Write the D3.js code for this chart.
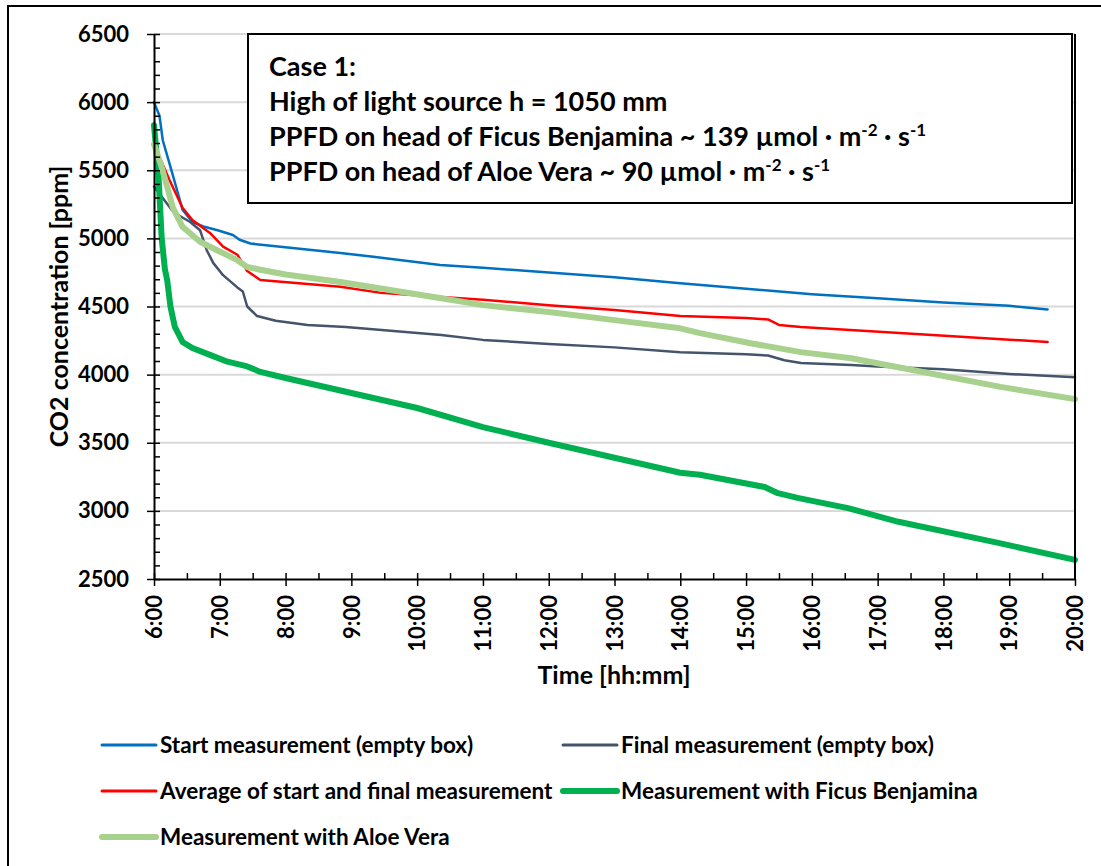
<!DOCTYPE html>
<html>
<head>
<meta charset="utf-8">
<script src="https://cdn.jsdelivr.net/npm/d3@7"></script>
<style>
  body { margin: 0; background: #fff; }
  svg { display: block; font-family: Lato, "Open Sans", sans-serif; font-weight: bold; }
  .ticks text { font-size: 22px; font-weight: bold; fill: #000; font-family: Lato, sans-serif; }
  .ticks .domain { stroke: #000; stroke-width: 2; }
  .ticks .tick line { stroke: #000; stroke-width: 1.5; }
  .axisLabel { font-size: 25px; font-weight: bold; }
  .legendLabel { font-size: 22.5px; font-weight: bold; }
  .noteText { font-size: 27px; font-weight: bold; }
</style>
</head>
<body>
<svg id="chart"></svg>
<script>
const parseTime = d3.timeParse("%H:%M");

// time axis tick labels and value axis ticks
const xTickLabels = ["6:00", "7:00", "8:00", "9:00", "10:00", "11:00", "12:00", "13:00",
  "14:00", "15:00", "16:00", "17:00", "18:00", "19:00", "20:00"];
const yTickValues = [2500, 3000, 3500, 4000, 4500, 5000, 5500, 6000, 6500];

// Start measurement (empty box)
const startTimes = ["6:00", "6:05", "6:08", "6:15", "6:21", "6:26", "6:35", "6:46", "6:58", "7:12",
  "7:18", "7:28", "8:04", "8:50", "9:20", "10:21", "11:00", "12:00", "13:00", "14:00",
  "15:00", "16:00", "17:00", "18:00", "19:00", "19:35"];
const startValues = [6000, 5900, 5720, 5525, 5355, 5210, 5120, 5085, 5060, 5025,
  4990, 4962, 4932, 4893, 4865, 4805, 4785, 4750, 4715, 4670,
  4630, 4590, 4560, 4530, 4505, 4478];

// Final measurement (empty box)
const finalTimes = ["6:00", "6:18", "6:33", "6:42", "6:48", "6:54", "7:03", "7:16", "7:21", "7:25",
  "7:34", "7:51", "8:20", "8:55", "10:22", "11:00", "12:00", "13:00", "14:00", "15:00",
  "15:20", "15:35", "15:50", "16:36", "17:00", "18:00", "19:00", "20:00"];
const finalValues = [5380, 5190, 5120, 5060, 4915, 4820, 4730, 4640, 4610, 4500,
  4430, 4395, 4365, 4350, 4290, 4255, 4225, 4200, 4165, 4150,
  4140, 4105, 4085, 4070, 4060, 4040, 4005, 3980];

// Average of start and final measurement
const averageTimes = ["6:00", "6:14", "6:26", "6:35", "6:51", "7:03", "7:16", "7:25", "7:37", "8:50",
  "9:27", "10:22", "11:00", "12:00", "13:00", "14:00", "15:00", "15:20", "15:30", "15:50",
  "17:20", "19:35"];
const averageValues = [5690, 5430, 5225, 5135, 5040, 4940, 4880, 4760, 4695, 4645,
  4600, 4570, 4550, 4510, 4475, 4430, 4415, 4405, 4365, 4350,
  4305, 4240];

// Measurement with Ficus Benjamina
const ficusTimes = ["6:00", "6:04", "6:07", "6:10", "6:12", "6:15", "6:19", "6:26", "6:35", "6:51",
  "7:07", "7:25", "7:37", "8:00", "9:00", "10:00", "11:00", "12:00", "13:00", "14:00",
  "14:18", "15:17", "15:29", "15:47", "16:33", "17:19", "18:50", "20:00"];
const ficusValues = [5830, 5480, 5000, 4770, 4695, 4500, 4350, 4240, 4195, 4145,
  4095, 4060, 4020, 3975, 3865, 3755, 3615, 3500, 3390, 3280,
  3265, 3175, 3130, 3095, 3020, 2920, 2765, 2640];

// Measurement with Aloe Vera
const aloeTimes = ["6:00", "6:06", "6:12", "6:17", "6:26", "6:42", "6:57", "7:16", "7:25", "7:37",
  "8:00", "8:50", "10:22", "11:00", "12:00", "13:00", "14:00", "14:18", "15:04", "15:50",
  "16:36", "17:21", "18:52", "20:00"];
const aloeValues = [5690, 5550, 5380, 5230, 5085, 4975, 4915, 4840, 4790, 4770,
  4735, 4680, 4560, 4510, 4460, 4400, 4340, 4305, 4230, 4165,
  4120, 4050, 3910, 3820];

const noteLines = [
  ["Case 1:"],
  ["High of light source h = 1050 mm"],
  ["PPFD on head of Ficus Benjamina ~ 139 µmol · m", "-2", " · s", "-1"],
  ["PPFD on head of Aloe Vera ~ 90 µmol · m", "-2", " · s", "-1"],
];

const lineChart = () => {
  let width;
  let height;
  let ySeries = [];
  let margin = { top: 34, right: 26, bottom: 287, left: 154 };
  let xLabel;
  let yLabel;

  const my = (selection) => {
    selection.attr("width", width).attr("height", height);

    const x = d3
      .scaleTime()
      .domain([parseTime(xTickLabels[0]), parseTime(xTickLabels[xTickLabels.length - 1])])
      .range([margin.left, width - margin.right]);

    const y = d3
      .scaleLinear()
      .domain(d3.extent(yTickValues))
      .range([height - margin.bottom, margin.top]);

    // chart frame
    selection
      .append("rect")
      .attr("x", 8)
      .attr("y", 6)
      .attr("width", width)
      .attr("height", height)
      .attr("fill", "none")
      .attr("stroke", "#000")
      .attr("stroke-width", 2);

    // horizontal gridlines
    selection
      .selectAll(".grid")
      .data(yTickValues.slice(1))
      .join("line")
      .attr("class", "grid")
      .attr("x1", margin.left)
      .attr("x2", width - margin.right)
      .attr("y1", (d) => y(d))
      .attr("y2", (d) => y(d))
      .attr("stroke", "#d9d9d9")
      .attr("stroke-width", 2);

    const seriesData = ySeries.map((s) => ({
      ...s,
      values: s.times.map((t, i) => ({ time: parseTime(t), value: s.values[i] })),
    }));

    const lineGenerator = d3
      .line()
      .x((d) => x(d.time))
      .y((d) => y(d.value));

    selection
      .selectAll(".line-chart-line")
      .data(seriesData)
      .join("path")
      .attr("class", "line-chart-line")
      .attr("fill", "none")
      .attr("stroke", (d) => d.color)
      .attr("stroke-width", (d) => d.strokeWidth)
      .attr("stroke-linejoin", "round")
      .attr("stroke-linecap", "round")
      .attr("d", (d) => lineGenerator(d.values));

    // y axis: major ticks outside, minor ticks inside
    selection
      .append("g")
      .attr("class", "yAxis ticks")
      .attr("transform", `translate(${margin.left},0)`)
      .call(
        d3
          .axisLeft(y)
          .tickValues(yTickValues)
          .tickSize(7)
          .tickSizeOuter(0)
          .tickPadding(18)
          .tickFormat(d3.format("d"))
      );

    selection
      .append("g")
      .attr("class", "yMinor ticks")
      .attr("transform", `translate(${margin.left},0)`)
      .call(d3.axisRight(y).tickValues(d3.range(2500, 6501, 100)).tickSize(6).tickSizeOuter(0).tickFormat(""))
      .call((g) => g.select(".domain").remove());

    // x axis
    const xAxisG = selection
      .append("g")
      .attr("class", "xAxis ticks")
      .attr("transform", `translate(0, ${height - margin.bottom})`)
      .call(
        d3
          .axisBottom(x)
          .tickValues(xTickLabels.map(parseTime))
          .tickSize(7)
          .tickSizeOuter(0)
          .tickFormat(d3.timeFormat("%-H:%M"))
      );
    xAxisG
      .selectAll("text")
      .attr("transform", "rotate(-90)")
      .attr("text-anchor", "end")
      .attr("x", -16)
      .attr("y", 0)
      .attr("dy", "0.35em");

    selection
      .append("g")
      .attr("class", "xMinor ticks")
      .attr("transform", `translate(0, ${height - margin.bottom})`)
      .call(
        d3
          .axisTop(x)
          .tickValues(d3.timeMinute.every(30).range(...x.domain()))
          .tickSize(6)
          .tickSizeOuter(0)
          .tickFormat("")
      )
      .call((g) => g.select(".domain").remove());

    // right frame of the plot area
    selection
      .append("line")
      .attr("x1", width - margin.right)
      .attr("x2", width - margin.right)
      .attr("y1", margin.top)
      .attr("y2", height - margin.bottom)
      .attr("stroke", "#000")
      .attr("stroke-width", 2);

    selection
      .append("text")
      .attr("class", "axisLabel")
      .attr("text-anchor", "middle")
      .attr("x", 614)
      .attr("y", 684)
      .text(xLabel);

    selection
      .append("text")
      .attr("class", "axisLabel")
      .attr("text-anchor", "middle")
      .attr("transform", `translate(68, ${(margin.top + height - margin.bottom) / 2}) rotate(-90)`)
      .text(yLabel);

    // annotation box
    const note = selection.append("g").attr("class", "note");
    note
      .append("rect")
      .attr("x", 248)
      .attr("y", margin.top)
      .attr("width", 824)
      .attr("height", 169)
      .attr("fill", "#fff")
      .attr("stroke", "#000")
      .attr("stroke-width", 2);

    note
      .selectAll(".noteText")
      .data(noteLines)
      .join("text")
      .attr("class", "noteText")
      .attr("x", 269)
      .attr("y", (d, i) => 76 + i * 35)
      .each(function (parts) {
        const t = d3.select(this);
        parts.forEach((p, j) => {
          const span = t.append("tspan").text(p);
          if (j % 2 === 1) span.attr("baseline-shift", "super").attr("font-size", "17px");
        });
      });

    // legend
    const legend = selection
      .selectAll(".legendItem")
      .data(seriesData)
      .join("g")
      .attr("class", "legendItem")
      .attr("transform", (d, i) => `translate(${i % 2 === 0 ? 102 : 563}, ${745 + Math.floor(i / 2) * 46})`);

    legend
      .append("line")
      .attr("x1", 0)
      .attr("x2", 54)
      .attr("stroke", (d) => d.color)
      .attr("stroke-width", (d) => (d.strokeWidth > 4 ? 6 : 3))
      .attr("stroke-linecap", "round");

    legend
      .append("text")
      .attr("class", "legendLabel")
      .attr("x", 58)
      .attr("dy", "0.36em")
      .text((d) => d.title);
  };

  my.width = function (_) {
    return arguments.length ? ((width = +_), my) : width;
  };
  my.height = function (_) {
    return arguments.length ? ((height = +_), my) : height;
  };
  my.ySeries = function (_) {
    return arguments.length ? ((ySeries = _), my) : ySeries;
  };
  my.margin = function (_) {
    return arguments.length ? ((margin = _), my) : margin;
  };
  my.xLabel = function (_) {
    return arguments.length ? ((xLabel = _), my) : xLabel;
  };
  my.yLabel = function (_) {
    return arguments.length ? ((yLabel = _), my) : yLabel;
  };
  return my;
};

const chart = lineChart()
  .width(1101)
  .height(866)
  .xLabel("Time [hh:mm]")
  .yLabel("CO2 concentration [ppm]")
  .ySeries([
    { title: "Start measurement (empty box)", color: "#0070c0", strokeWidth: 2.5, times: startTimes, values: startValues },
    { title: "Final measurement (empty box)", color: "#44546a", strokeWidth: 2.5, times: finalTimes, values: finalValues },
    { title: "Average of start and final measurement", color: "#ff0000", strokeWidth: 2.5, times: averageTimes, values: averageValues },
    { title: "Measurement with Ficus Benjamina", color: "#00b050", strokeWidth: 6, times: ficusTimes, values: ficusValues },
    { title: "Measurement with Aloe Vera", color: "#a9d18e", strokeWidth: 6, times: aloeTimes, values: aloeValues },
  ]);

d3.select("#chart").call(chart);
</script>
</body>
</html>
